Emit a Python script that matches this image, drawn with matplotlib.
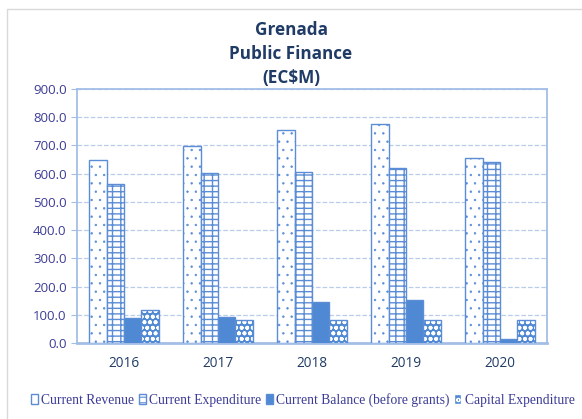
import numpy as np
import matplotlib
matplotlib.use('Agg')
import matplotlib.pyplot as plt
from matplotlib.patches import Rectangle, Patch

# Data (EC$M)
years = ['2016', '2017', '2018', '2019', '2020']
current_revenue = [648, 699, 753, 775, 654]
current_expenditure = [562, 603, 607, 621, 640]
current_balance = [87, 92, 146, 154, 15]
capital_expenditure = [118, 80, 83, 83, 83]
series_names = ['Current Revenue', 'Current Expenditure',
                'Current Balance (before grants)', 'Capital Expenditure']

edge_blue = '#5B8DD6'
fill_blue = '#5089D3'
grid_blue = '#B9CCEA'
spine_blue = '#A3BEE6'
navy = '#1F3B66'
purple = '#3C3C96'

fig = plt.figure(figsize=(5.82, 4.19), dpi=100)
ax = fig.add_axes([77 / 582, 1 - 343 / 419, 470 / 582, 254 / 419])

x = np.arange(len(years))
w = 0.184
offsets = [-1.5 * w, -0.5 * w, 0.5 * w, 1.5 * w]

plt.rcParams['hatch.linewidth'] = 0.5
ax.bar(x + offsets[0], current_revenue, w, facecolor='white',
       edgecolor=edge_blue, hatch='..', linewidth=1.0, zorder=3)
plt.rcParams['hatch.linewidth'] = 1.0
ax.bar(x + offsets[1], current_expenditure, w, facecolor='white',
       edgecolor=edge_blue, hatch='---||', linewidth=1.0, zorder=3)
ax.bar(x + offsets[2], current_balance, w, facecolor=fill_blue,
       edgecolor=edge_blue, linewidth=1.0, zorder=3)
# capital: blue with white dots
plt.rcParams['hatch.linewidth'] = 1.2
ax.bar(x + offsets[3], capital_expenditure, w, facecolor=fill_blue,
       edgecolor='white', hatch='ooo', linewidth=0, zorder=3)
ax.bar(x + offsets[3], capital_expenditure, w, fill=False,
       edgecolor=edge_blue, linewidth=1.0, zorder=4)

ax.set_xlim(-0.5, len(years) - 0.5)
ax.set_ylim(0, 900)
ax.set_yticks(np.arange(0, 901, 100))
ax.set_yticklabels(['%.1f' % v for v in np.arange(0, 901, 100)])
ax.set_xticks(x)
ax.set_xticklabels(years)
ax.tick_params(axis='y', colors=spine_blue, labelcolor=purple, labelsize=9.5,
               length=4, direction='out')
ax.tick_params(axis='x', length=0, labelcolor=navy, labelsize=9.8, pad=9)
for lbl in ax.get_yticklabels() + ax.get_xticklabels():
    lbl.set_family('Open Sans')

ax.yaxis.grid(True, linestyle='--', color=grid_blue, linewidth=0.9, zorder=0)
ax.set_axisbelow(True)
for s in ax.spines.values():
    s.set_color(spine_blue)
    s.set_linewidth(1.3)
ax.spines['bottom'].set_linewidth(2.0)

fig.text(0.5, 1 - 54 / 419, 'Grenada\nPublic Finance\n(EC$M)', ha='center', va='center',
         fontsize=12.3, fontweight='bold', color=navy, family='Open Sans',
         linespacing=1.4)

# outer chart border
fig.patches.append(Rectangle((7 / 582, -0.1), 1.0, 1 - 9 / 419 + 0.1,
                             transform=fig.transFigure, fill=False,
                             edgecolor='#D9D9D9', linewidth=1.0))

plt.rcParams['hatch.linewidth'] = 0.8
handles = [Patch(facecolor='white', edgecolor=edge_blue),
           Patch(facecolor='white', edgecolor=edge_blue, hatch='---'),
           Patch(facecolor=fill_blue, edgecolor=edge_blue),
           Patch(facecolor=fill_blue, edgecolor='white', hatch='oo')]
leg = fig.legend(handles, series_names, loc='center', ncol=4,
                 bbox_to_anchor=(0.52, 1 - 400 / 419), frameon=False,
                 prop={'family': 'Liberation Serif', 'size': 9.8},
                 handlelength=0.5, handleheight=0.7, handletextpad=0.25,
                 columnspacing=0.35)
for t in leg.get_texts():
    t.set_color(purple)

fig.savefig('out.png', dpi=100)
